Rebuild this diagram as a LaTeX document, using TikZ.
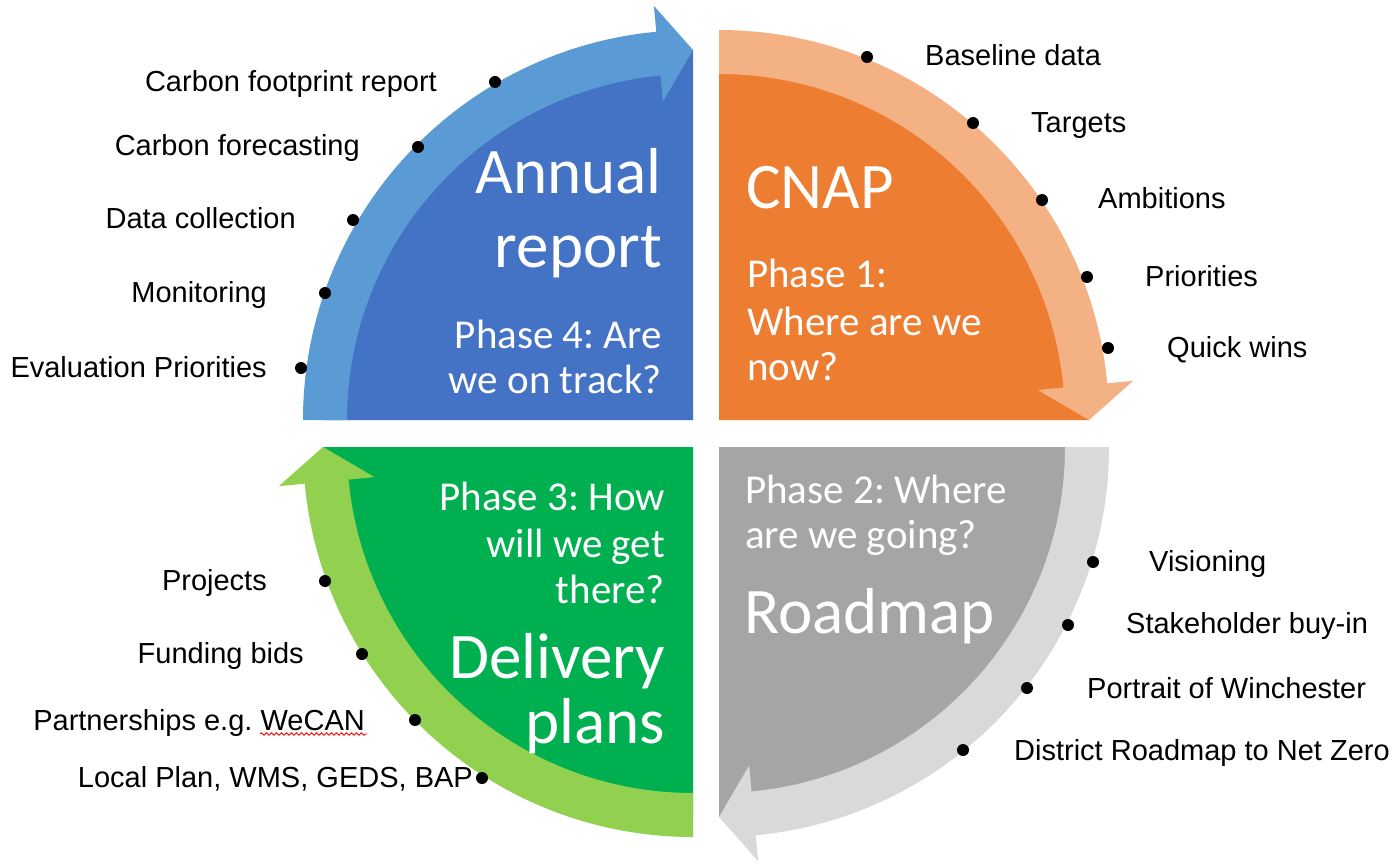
\documentclass[tikz,border=0pt]{standalone}
\usepackage{fontspec}
\setmainfont{Liberation Sans}
\newfontfamily\carlito{Carlito}
\usetikzlibrary{decorations.pathmorphing}
\frenchspacing
\definecolor{bluedark}{HTML}{4472C4}
\definecolor{bluelight}{HTML}{5B9BD5}
\definecolor{orangedark}{HTML}{ED7D31}
\definecolor{orangelight}{HTML}{F4B183}
\definecolor{graydark}{HTML}{A5A5A5}
\definecolor{graylight}{HTML}{D9D9D9}
\definecolor{greendark}{HTML}{00B050}
\definecolor{greenlight}{HTML}{92D050}
\begin{document}
\begin{tikzpicture}[x=1pt,y=-1pt,
  lbl/.style={inner sep=0pt, text=black, font=\frenchspacing\fontsize{29}{34}\selectfont},
  big/.style={inner sep=0pt, text=white, font=\frenchspacing\carlito\fontsize{65}{78}\selectfont},
  mid/.style={inner sep=0pt, text=white, font=\frenchspacing\carlito\fontsize{41}{49}\selectfont},
  dot/.style={circle, fill=black, inner sep=0pt, minimum size=12pt},
  spell/.style={draw=red, line width=0.9pt, decorate, decoration={snake, amplitude=1.2pt, segment length=5pt}}
]
\fill[white] (0,0) rectangle (1396,864);
\useasboundingbox (0,0) rectangle (1396,864);

\coordinate (cB) at (693,420);
\coordinate (cO) at (719,420);
\coordinate (cG) at (719,447);
\coordinate (cN) at (693,447);

% ---- Blue quadrant (top left) ----
\fill[bluedark] (cB) -- ([shift={(180:370)}]cB) arc[start angle=180,end angle=270,radius=370] -- cycle;
\fill[bluelight] ([shift={(180:390)}]cB) arc[start angle=180,end angle=264.6,radius=390]
  -- ([shift={(264.6:416)}]cB) -- ([shift={(270:370)}]cB) -- ([shift={(264.6:320)}]cB)
  -- ([shift={(264.6:346)}]cB) arc[start angle=264.6,end angle=180,radius=346] -- cycle;

% ---- Orange quadrant (top right) ----
\fill[orangedark] (cO) -- ([shift={(270:370)}]cO) arc[start angle=270,end angle=360,radius=370] -- cycle;
\fill[orangelight] ([shift={(270:390)}]cO) arc[start angle=270,end angle=354.6,radius=390]
  -- ([shift={(354.6:416)}]cO) -- ([shift={(360:370)}]cO) -- ([shift={(354.6:320)}]cO)
  -- ([shift={(354.6:346)}]cO) arc[start angle=354.6,end angle=270,radius=346] -- cycle;

% ---- Gray quadrant (bottom right) ----
\fill[graydark] (cG) -- ([shift={(0:370)}]cG) arc[start angle=0,end angle=90,radius=370] -- cycle;
\fill[graylight] ([shift={(0:390)}]cG) arc[start angle=0,end angle=84.6,radius=390]
  -- ([shift={(84.6:416)}]cG) -- ([shift={(90:370)}]cG) -- ([shift={(84.6:320)}]cG)
  -- ([shift={(84.6:346)}]cG) arc[start angle=84.6,end angle=0,radius=346] -- cycle;

% ---- Green quadrant (bottom left) ----
\fill[greendark] (cN) -- ([shift={(90:370)}]cN) arc[start angle=90,end angle=180,radius=370] -- cycle;
\fill[greenlight] ([shift={(90:390)}]cN) arc[start angle=90,end angle=174.6,radius=390]
  -- ([shift={(174.6:416)}]cN) -- ([shift={(180:370)}]cN) -- ([shift={(174.6:320)}]cN)
  -- ([shift={(174.6:346)}]cN) arc[start angle=174.6,end angle=90,radius=346] -- cycle;

% ---- White titles ----
\node[big, anchor=base east] (t4a) at (662,193) {Annual};
\node[big, anchor=base east] (t4b) at (662,267) {report};
\node[mid, anchor=base east] (t4c) at (662,348) {Phase 4: Are};
\node[mid, anchor=base east] (t4d) at (662,393) {we on track?};

\node[big, anchor=base west] (t1a) at (746,208) {CNAP};
\node[mid, anchor=base west] (t1b) at (747,287) {Phase 1:};
\node[mid, anchor=base west] (t1c) at (747,335) {Where are we};
\node[mid, anchor=base west] (t1d) at (747,380) {now?};

\node[mid, anchor=base east] (t3a) at (665,510) {Phase 3: How};
\node[mid, anchor=base east] (t3b) at (665,557) {will we get};
\node[mid, anchor=base east] (t3c) at (665,603) {there?};
\node[big, anchor=base east] (t3d) at (665,678) {Delivery};
\node[big, anchor=base east] (t3e) at (665,743) {plans};

\node[mid, anchor=base west] (t2a) at (745,503) {Phase 2: Where};
\node[mid, anchor=base west] (t2b) at (745,548) {are we going?};
\node[big, anchor=base west] (t2c) at (744,633) {Roadmap};

% ---- Dots ----
\node[dot] (dB1) at (495,82) {};
\node[dot] (dB2) at (418,147) {};
\node[dot] (dB3) at (353,220) {};
\node[dot] (dB4) at (325,293) {};
\node[dot] (dB5) at (301,368) {};
\node[dot] (dO1) at (867,57) {};
\node[dot] (dO2) at (973,123) {};
\node[dot] (dO3) at (1042,200) {};
\node[dot] (dO4) at (1087,277) {};
\node[dot] (dO5) at (1108,348) {};
\node[dot] (dG1) at (1093,562) {};
\node[dot] (dG2) at (1068,625) {};
\node[dot] (dG3) at (1027,688) {};
\node[dot] (dG4) at (963,750) {};
\node[dot] (dN1) at (325,581) {};
\node[dot] (dN2) at (362,654) {};
\node[dot] (dN3) at (415,720) {};
\node[dot] (dN4) at (482,778) {};

% ---- Labels ----
\node[lbl, anchor=base east] (lB1) at (437,92) {Carbon footprint report};
\node[lbl, anchor=base east] (lB2) at (360,155) {Carbon forecasting};
\node[lbl, anchor=base east] (lB3) at (296,228) {Data collection};
\node[lbl, anchor=base east] (lB4) at (267,302) {Monitoring};
\node[lbl, anchor=base east] (lB5) at (267,377) {Evaluation Priorities};

\node[lbl, anchor=base west] (lO1) at (925,66) {Baseline data};
\node[lbl, anchor=base west] (lO2) at (1031,132) {Targets};
\node[lbl, anchor=base west] (lO3) at (1098,208) {Ambitions};
\node[lbl, anchor=base west] (lO4) at (1145,286) {Priorities};
\node[lbl, anchor=base west] (lO5) at (1167,357) {Quick wins};

\node[lbl, anchor=base west] (lG1) at (1149,571) {Visioning};
\node[lbl, anchor=base west] (lG2) at (1126,633) {Stakeholder buy-in};
\node[lbl, anchor=base west] (lG3) at (1087,698) {Portrait of Winchester};
\node[lbl, anchor=base west] (lG4) at (1014,760) {District Roadmap to Net Zero};

\node[lbl, anchor=base east] (lN1) at (267,590) {Projects};
\node[lbl, anchor=base east] (lN2) at (304,663) {Funding bids};
\node[lbl, anchor=base east] (lN3) at (365,730) {Partnerships e.g. WeCAN};
\node[lbl, anchor=base east] (lN4) at (473,787) {Local Plan, WMS, GEDS, BAP};

\draw[spell] ([shift={(-105,4)}]lN3.base east) -- ([shift={(2,4)}]lN3.base east);
\end{tikzpicture}
\end{document}
